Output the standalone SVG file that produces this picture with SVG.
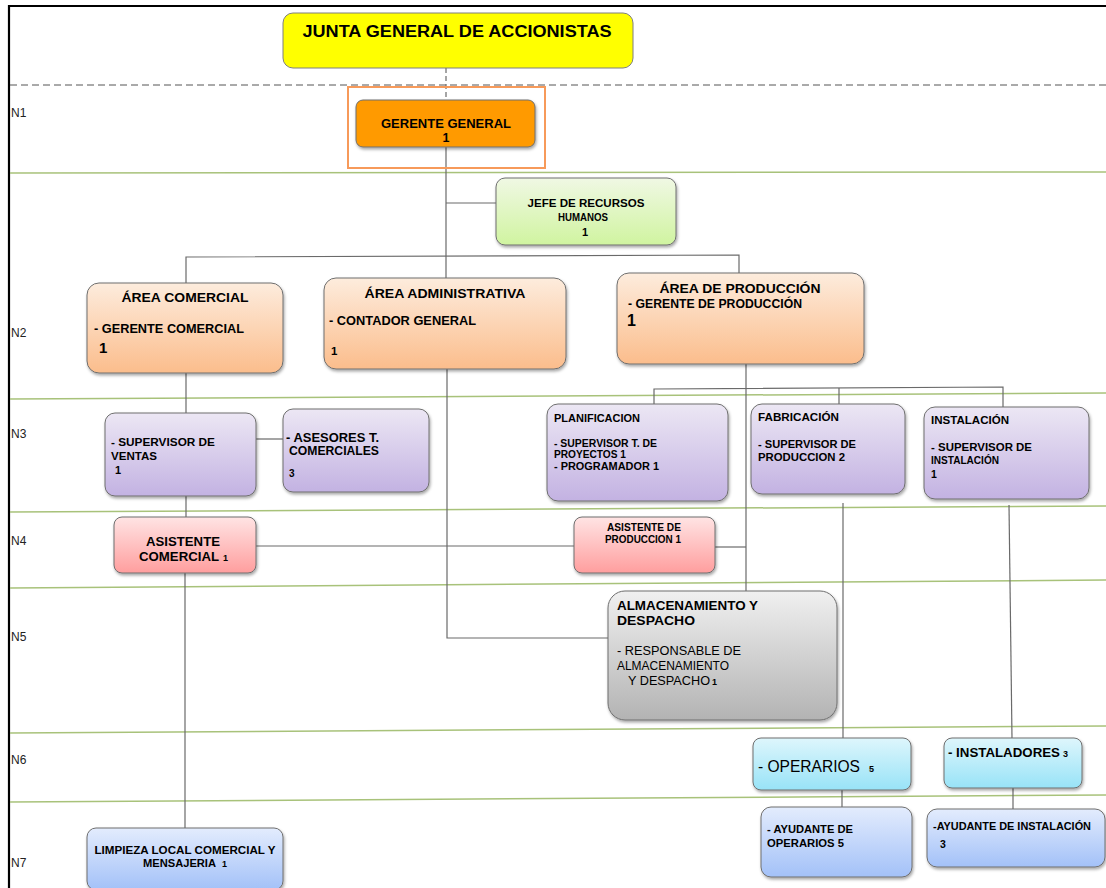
<svg xmlns="http://www.w3.org/2000/svg" width="1106" height="888" viewBox="0 0 1106 888">
<defs>
<linearGradient id="gGreen" x1="0" y1="0" x2="0" y2="1"><stop offset="0" stop-color="#F0F8E4"/><stop offset="1" stop-color="#D0F4A0"/></linearGradient>
<linearGradient id="gPeach" x1="0" y1="0" x2="0" y2="1"><stop offset="0" stop-color="#FDECDD"/><stop offset="1" stop-color="#FBBD8C"/></linearGradient>
<linearGradient id="gPurple" x1="0" y1="0" x2="0" y2="1"><stop offset="0" stop-color="#ECE7F4"/><stop offset="1" stop-color="#C3B2E2"/></linearGradient>
<linearGradient id="gPink" x1="0" y1="0" x2="0" y2="1"><stop offset="0" stop-color="#FFE4E4"/><stop offset="1" stop-color="#FF9E9E"/></linearGradient>
<linearGradient id="gGray" x1="0" y1="0" x2="0" y2="1"><stop offset="0" stop-color="#F0F0F0"/><stop offset="1" stop-color="#B3B3B3"/></linearGradient>
<linearGradient id="gCyan" x1="0" y1="0" x2="0" y2="1"><stop offset="0" stop-color="#DEF6FC"/><stop offset="1" stop-color="#98E3F7"/></linearGradient>
<linearGradient id="gBlue" x1="0" y1="0" x2="0" y2="1"><stop offset="0" stop-color="#E3ECFD"/><stop offset="1" stop-color="#A3C1F8"/></linearGradient>
<filter id="sh" x="-10%" y="-10%" width="125%" height="130%"><feDropShadow dx="1" dy="2" stdDeviation="1.5" flood-color="#000" flood-opacity="0.35"/></filter>
</defs>
<style>
.box{stroke:#6F6F6F;stroke-width:1;filter:url(#sh)}
.t{font-family:"Liberation Sans",Arial,sans-serif;font-weight:bold;fill:#000}
.n{font-family:"Liberation Sans",Arial,sans-serif;font-weight:normal;fill:#000}
.lbl{font-family:"Liberation Sans",Arial,sans-serif;font-size:12px;fill:#222}
.lane{stroke:#A8C27A;stroke-width:1.5;fill:none}
.con{stroke:#6A6A6A;stroke-width:1.2;fill:none}
.c{text-anchor:middle}
</style>
<rect width="1106" height="888" fill="#FFFFFF"/>

<g id="frame">
<line x1="8" y1="6" x2="1106" y2="6" stroke="#000" stroke-width="2"/>
<line x1="9" y1="5" x2="9" y2="888" stroke="#000" stroke-width="2.2"/>
</g>

<g id="lanes">
<line x1="10" y1="85" x2="1106" y2="85" stroke="#555" stroke-width="1" stroke-dasharray="7,4"/>
<line class="lane" x1="10" y1="173" x2="1106" y2="172"/>
<line class="lane" x1="10" y1="399" x2="1106" y2="393"/>
<line class="lane" x1="10" y1="512" x2="1106" y2="506"/>
<line class="lane" x1="10" y1="588" x2="1106" y2="580"/>
<line class="lane" x1="10" y1="733" x2="1106" y2="726"/>
<line class="lane" x1="10" y1="802" x2="1106" y2="795"/>
<text class="lbl" x="11" y="117">N1</text>
<text class="lbl" x="11" y="337">N2</text>
<text class="lbl" x="11" y="438">N3</text>
<text class="lbl" x="11" y="545">N4</text>
<text class="lbl" x="11" y="641">N5</text>
<text class="lbl" x="11" y="764">N6</text>
<text class="lbl" x="11" y="867">N7</text>
</g>

<g id="connectors">
<line x1="446" y1="68" x2="446" y2="100" stroke="#6A6A6A" stroke-width="1.2" stroke-dasharray="5,3"/>
<line class="con" x1="446" y1="147" x2="446" y2="278"/>
<line class="con" x1="446" y1="203" x2="496" y2="203"/>
<polyline class="con" points="186,283 186,257 739,255 739,273"/>
<polyline class="con" points="447,369 447,638 608,638"/>
<line class="con" x1="186" y1="373" x2="186" y2="413"/>
<line class="con" x1="256" y1="439" x2="283" y2="439"/>
<line class="con" x1="186" y1="496" x2="186" y2="517"/>
<line class="con" x1="256" y1="546" x2="574" y2="546"/>
<line class="con" x1="185" y1="573" x2="185" y2="828"/>
<line class="con" x1="746" y1="364" x2="746" y2="591"/>
<line class="con" x1="715" y1="547" x2="746" y2="547"/>
<polyline class="con" points="654,404 654,389 1003,387 1003,407"/>
<line class="con" x1="839" y1="388" x2="839" y2="404"/>
<line class="con" x1="843" y1="503" x2="843" y2="738"/>
<line class="con" x1="1009" y1="505" x2="1012" y2="738"/>
<line class="con" x1="842" y1="787" x2="842" y2="807"/>
<line class="con" x1="1013" y1="788" x2="1013" y2="809"/>
</g>

<g id="junta">
<rect x="283" y="13" width="350" height="55" rx="10" fill="#FFFF00" stroke="#7F7F7F" stroke-width="1"/>
<text class="t c" x="457" y="37" font-size="16" textLength="309" lengthAdjust="spacingAndGlyphs">JUNTA GENERAL DE ACCIONISTAS</text>
</g>

<g id="gerente-general">
<rect x="348" y="87" width="197" height="81" fill="none" stroke="#F79A5A" stroke-width="2"/>
<rect class="box" x="356" y="100" width="179" height="47" rx="7" fill="#FF9A00"/>
<text class="t c" x="446" y="128" font-size="12.5" textLength="130" lengthAdjust="spacingAndGlyphs">GERENTE  GENERAL</text>
<text class="t c" x="446" y="142" font-size="12.5">1</text>
</g>

<g id="jefe-rrhh">
<rect class="box" x="496" y="178" width="180" height="67" rx="9" fill="url(#gGreen)"/>
<text class="t c" x="586" y="207" font-size="11" textLength="117" lengthAdjust="spacingAndGlyphs">JEFE DE RECURSOS</text>
<text class="t c" x="583" y="221" font-size="11" textLength="50" lengthAdjust="spacingAndGlyphs">HUMANOS</text>
<text class="t c" x="585" y="236" font-size="11">1</text>
</g>

<g id="area-comercial">
<rect class="box" x="87" y="283" width="196" height="90" rx="12" fill="url(#gPeach)"/>
<text class="t c" x="185" y="302" font-size="13" textLength="127" lengthAdjust="spacingAndGlyphs">ÁREA  COMERCIAL</text>
<text class="t" x="94" y="333" font-size="12" textLength="150" lengthAdjust="spacingAndGlyphs">-  GERENTE COMERCIAL</text>
<text class="t" x="99" y="353" font-size="15">1</text>
</g>

<g id="area-administrativa">
<rect class="box" x="324" y="278" width="242" height="91" rx="12" fill="url(#gPeach)"/>
<text class="t c" x="445" y="298" font-size="13" textLength="161" lengthAdjust="spacingAndGlyphs">ÁREA  ADMINISTRATIVA</text>
<text class="t" x="329" y="325" font-size="12" textLength="147" lengthAdjust="spacingAndGlyphs">- CONTADOR GENERAL</text>
<text class="t" x="331" y="355" font-size="11.5">1</text>
</g>

<g id="area-produccion">
<rect class="box" x="617" y="273" width="247" height="91" rx="12" fill="url(#gPeach)"/>
<text class="t c" x="740" y="293" font-size="13" textLength="161" lengthAdjust="spacingAndGlyphs">ÁREA  DE PRODUCCIÓN</text>
<text class="t" x="628" y="308" font-size="12" textLength="174" lengthAdjust="spacingAndGlyphs">- GERENTE DE PRODUCCIÓN</text>
<text class="t" x="627" y="326" font-size="16">1</text>
</g>

<g id="supervisor-ventas">
<rect class="box" x="105" y="413" width="151" height="83" rx="10" fill="url(#gPurple)"/>
<text class="t" x="111" y="446" font-size="11" textLength="104" lengthAdjust="spacingAndGlyphs">- SUPERVISOR  DE</text>
<text class="t" x="111" y="460" font-size="11" textLength="46" lengthAdjust="spacingAndGlyphs">VENTAS</text>
<text class="t" x="115" y="474" font-size="11">1</text>
</g>

<g id="asesores">
<rect class="box" x="283" y="409" width="146" height="83" rx="10" fill="url(#gPurple)"/>
<text class="t" x="286" y="442" font-size="12.5" textLength="93" lengthAdjust="spacingAndGlyphs">- ASESORES T.</text>
<text class="t" x="289" y="455" font-size="12.5" textLength="90" lengthAdjust="spacingAndGlyphs">COMERCIALES</text>
<text class="t" x="289" y="477" font-size="10">3</text>
</g>

<g id="planificacion">
<rect class="box" x="547" y="404" width="181" height="97" rx="11" fill="url(#gPurple)"/>
<text class="t" x="554" y="422" font-size="10.5" textLength="86" lengthAdjust="spacingAndGlyphs">PLANIFICACION</text>
<text class="t" x="554" y="447" font-size="10.5" textLength="103" lengthAdjust="spacingAndGlyphs">- SUPERVISOR T. DE</text>
<text class="t" x="554" y="458" font-size="10.5" textLength="72" lengthAdjust="spacingAndGlyphs">PROYECTOS 1</text>
<text class="t" x="554" y="470" font-size="10.5" textLength="105" lengthAdjust="spacingAndGlyphs">- PROGRAMADOR    1</text>
</g>

<g id="fabricacion">
<rect class="box" x="751" y="404" width="154" height="90" rx="11" fill="url(#gPurple)"/>
<text class="t" x="758" y="421" font-size="10.5" textLength="81" lengthAdjust="spacingAndGlyphs">FABRICACIÓN</text>
<text class="t" x="758" y="448" font-size="10.5" textLength="98" lengthAdjust="spacingAndGlyphs">- SUPERVISOR DE</text>
<text class="t" x="758" y="461" font-size="10.5" textLength="87" lengthAdjust="spacingAndGlyphs">PRODUCCION  2</text>
</g>

<g id="instalacion">
<rect class="box" x="924" y="407" width="165" height="92" rx="11" fill="url(#gPurple)"/>
<text class="t" x="931" y="424" font-size="10.5" textLength="78" lengthAdjust="spacingAndGlyphs">INSTALACIÓN</text>
<text class="t" x="931" y="451" font-size="10.5" textLength="101" lengthAdjust="spacingAndGlyphs">-  SUPERVISOR DE</text>
<text class="t" x="931" y="464" font-size="10.5" textLength="68" lengthAdjust="spacingAndGlyphs">INSTALACIÓN</text>
<text class="t" x="931" y="478" font-size="10.5">1</text>
</g>

<g id="asistente-comercial">
<rect class="box" x="114" y="517" width="142" height="56" rx="8" fill="url(#gPink)"/>
<text class="t c" x="183" y="546" font-size="13" textLength="74" lengthAdjust="spacingAndGlyphs">ASISTENTE</text>
<text class="t" x="139" y="561" font-size="13" textLength="80" lengthAdjust="spacingAndGlyphs">COMERCIAL</text>
<text class="t" x="223" y="561" font-size="9">1</text>
</g>

<g id="asistente-produccion">
<rect class="box" x="574" y="517" width="141" height="56" rx="8" fill="url(#gPink)"/>
<text class="t c" x="644" y="531" font-size="10" textLength="74" lengthAdjust="spacingAndGlyphs">ASISTENTE DE</text>
<text class="t c" x="643" y="543" font-size="10" textLength="76" lengthAdjust="spacingAndGlyphs">PRODUCCION 1</text>
</g>

<g id="almacenamiento">
<rect class="box" x="608" y="591" width="229" height="129" rx="17" fill="url(#gGray)"/>
<text class="t" x="617" y="610" font-size="13" textLength="141" lengthAdjust="spacingAndGlyphs">ALMACENAMIENTO Y</text>
<text class="t" x="617" y="625" font-size="13" textLength="78" lengthAdjust="spacingAndGlyphs">DESPACHO</text>
<text class="n" x="617" y="655" font-size="12.5" textLength="124" lengthAdjust="spacingAndGlyphs">-  RESPONSABLE DE</text>
<text class="n" x="617" y="670" font-size="12.5" textLength="112" lengthAdjust="spacingAndGlyphs">ALMACENAMIENTO</text>
<text class="n" x="628" y="685" font-size="12.5" textLength="82" lengthAdjust="spacingAndGlyphs">Y DESPACHO</text>
<text class="t" x="712" y="685" font-size="9">1</text>
</g>

<g id="operarios">
<rect class="box" x="753" y="738" width="158" height="52" rx="8" fill="url(#gCyan)"/>
<text class="n" x="758" y="772" font-size="16" textLength="102" lengthAdjust="spacingAndGlyphs">- OPERARIOS</text>
<text class="t" x="869" y="772" font-size="9">5</text>
</g>

<g id="instaladores">
<rect class="box" x="944" y="738" width="138" height="50" rx="8" fill="url(#gCyan)"/>
<text class="t" x="948" y="757" font-size="13" textLength="112" lengthAdjust="spacingAndGlyphs">- INSTALADORES</text>
<text class="t" x="1063" y="757" font-size="9">3</text>
</g>

<g id="limpieza">
<rect class="box" x="87" y="828" width="196" height="62" rx="9" fill="url(#gBlue)"/>
<text class="t c" x="185" y="854" font-size="10.5" textLength="181" lengthAdjust="spacingAndGlyphs">LIMPIEZA  LOCAL COMERCIAL  Y</text>
<text class="t" x="143" y="867" font-size="10.5" textLength="73" lengthAdjust="spacingAndGlyphs">MENSAJERIA</text>
<text class="t" x="222" y="867" font-size="9">1</text>
</g>

<g id="ayudante-operarios">
<rect class="box" x="761" y="807" width="151" height="70" rx="10" fill="url(#gBlue)"/>
<text class="t" x="767" y="833" font-size="10.5" textLength="86" lengthAdjust="spacingAndGlyphs">- AYUDANTE  DE</text>
<text class="t" x="767" y="847" font-size="10.5" textLength="77" lengthAdjust="spacingAndGlyphs">OPERARIOS 5</text>
</g>

<g id="ayudante-instalacion">
<rect class="box" x="927" y="809" width="178" height="58" rx="10" fill="url(#gBlue)"/>
<text class="t" x="933" y="830" font-size="10.5" textLength="158" lengthAdjust="spacingAndGlyphs">-AYUDANTE  DE INSTALACIÓN</text>
<text class="t" x="940" y="848" font-size="10.5">3</text>
</g>
</svg>
